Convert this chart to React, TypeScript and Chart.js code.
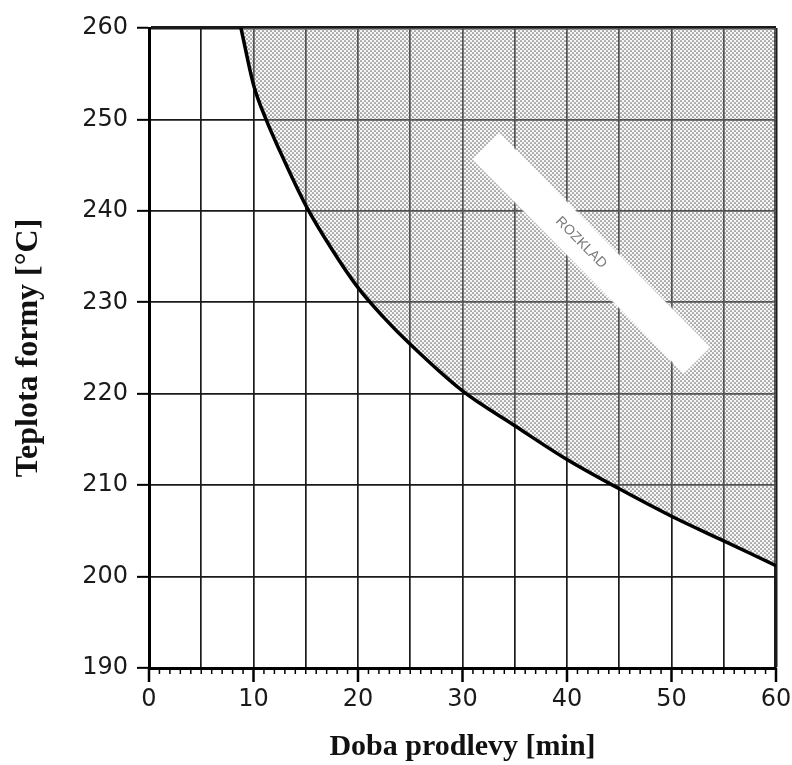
import React, { useEffect, useRef } from "react";
import { Chart, registerables } from "chart.js";

Chart.register(...registerables);

// Curve: time [min] vs mould temperature [°C]
const holdTimes = [8.8, 10, 11.2, 12.5, 15, 17.5, 20, 22.5, 25, 30, 35, 40, 45, 50, 55, 60];
const mouldTemps = [260, 253.8, 250, 246.6, 240.6, 235.8, 231.6, 228.3, 225.4, 220.3, 216.5, 212.8, 209.6, 206.6, 203.9, 201.2];

const xTickLabels = ["0", "10", "20", "30", "40", "50", "60"];
const yTickLabels = ["190", "200", "210", "220", "230", "240", "250", "260"];

const xTitle = "Doba prodlevy [min]";
const yTitle = "Teplota formy [°C]";
const zoneLabel = "ROZKLAD";

function makePattern(): CanvasPattern | string {
  const c = document.createElement("canvas");
  c.width = 4;
  c.height = 4;
  const g = c.getContext("2d");
  if (!g) return "rgba(120,120,120,0.5)";
  g.fillStyle = "rgba(225,225,225,0.25)";
  g.fillRect(0, 0, 4, 4);
  g.fillStyle = "#6a6a6a";
  g.beginPath();
  g.arc(1, 1, 0.85, 0, Math.PI * 2);
  g.fill();
  g.beginPath();
  g.arc(3, 3, 0.85, 0, Math.PI * 2);
  g.fill();
  const p = g.createPattern(c, "repeat");
  return p || "rgba(120,120,120,0.5)";
}

const xTicksPlugin = {
  id: "xMinorTicks",
  afterDraw(chart: any) {
    const xs = chart.scales.x;
    const ctx = chart.ctx;
    const bottom = chart.chartArea.bottom;
    ctx.save();
    ctx.strokeStyle = "#000";
    for (let i = 0; i <= 60; i++) {
      const px = xs.getPixelForValue(i);
      const major = i % 10 === 0;
      ctx.lineWidth = major ? 2.5 : 1.5;
      ctx.beginPath();
      ctx.moveTo(px, bottom);
      ctx.lineTo(px, bottom + (major ? 14 : 6));
      ctx.stroke();
    }
    ctx.restore();
  },
};

const bandPlugin = {
  id: "zoneBand",
  afterDatasetsDraw(chart: any) {
    const xs = chart.scales.x;
    const ys = chart.scales.y;
    const ctx = chart.ctx;
    const cx = xs.getPixelForValue(42.35);
    const cy = ys.getPixelForValue(235.35);
    ctx.save();
    ctx.translate(cx, cy);
    ctx.rotate((45.4 * Math.PI) / 180);
    ctx.shadowColor = "rgba(255,255,255,0.9)";
    ctx.shadowBlur = 3;
    ctx.fillStyle = "#ffffff";
    ctx.fillRect(-150, -18.5, 300, 37);
    ctx.shadowBlur = 0;
    ctx.fillStyle = "#7a7a7a";
    ctx.font = "14px 'Liberation Sans', Arial, sans-serif";
    ctx.textAlign = "center";
    ctx.textBaseline = "middle";
    ctx.fillText(zoneLabel, -15, 0);
    ctx.restore();
  },
};

export default function App() {
  const ref = useRef<HTMLCanvasElement | null>(null);

  useEffect(() => {
    if (!ref.current) return;
    const pattern = makePattern();
    const points = holdTimes.map((x, i) => ({ x, y: mouldTemps[i] }));
    const chart = new Chart(ref.current, {
      type: "line",
      data: {
        datasets: [
          {
            data: points,
            borderColor: "#000",
            borderWidth: 3.5,
            pointRadius: 0,
            cubicInterpolationMode: "monotone",
            fill: "end",
            backgroundColor: pattern as any,
          },
        ],
      },
      options: {
        responsive: false,
        animation: false,
        layout: { padding: { left: 0, right: 16, top: 28, bottom: 0 } },
        plugins: {
          legend: { display: false },
          tooltip: { enabled: false },
        },
        scales: {
          x: {
            type: "linear",
            min: 0,
            max: 60,
            afterFit: (s: any) => {
              s.height = 97;
              s.paddingLeft = 0;
              s.paddingRight = 0;
            },
            border: { display: true, color: "#000", width: 3 },
            grid: {
              color: "#1a1a1a",
              lineWidth: (c: any) => (c.tick && c.tick.value === 60 ? 3.5 : 1.7),
              drawTicks: true,
              tickLength: 10,
              tickColor: "rgba(0,0,0,0)",
            },
            ticks: {
              stepSize: 5,
              padding: 7,
              color: "#1a1a1a",
              font: { family: "'DejaVu Sans', sans-serif", size: 24 },
              maxRotation: 0,
              autoSkip: false,
              callback: (v: any) => {
                const s = String(v);
                return xTickLabels.includes(s) ? s : "";
              },
            },
            title: {
              display: true,
              text: xTitle,
              color: "#111",
              font: { family: "'Liberation Serif', 'Times New Roman', serif", size: 30, weight: "bold" },
              padding: { top: 0, bottom: 0 },
            },
          },
          y: {
            type: "linear",
            min: 190,
            max: 260,
            afterFit: (s: any) => {
              s.width = 149;
            },
            border: { display: true, color: "#000", width: 3 },
            grid: {
              color: "#1a1a1a",
              lineWidth: (c: any) => (c.tick && c.tick.value === 260 ? 3.5 : 1.7),
              tickLength: 12,
              tickColor: "#000",
              tickWidth: 2,
            },
            ticks: {
              stepSize: 10,
              padding: 9,
              color: "#1a1a1a",
              font: { family: "'DejaVu Sans', sans-serif", size: 24 },
              callback: (v: any) => {
                const s = String(v);
                return yTickLabels.includes(s) ? s : "";
              },
            },
            title: {
              display: true,
              text: yTitle,
              color: "#111",
              font: { family: "'Liberation Serif', 'Times New Roman', serif", size: 32, weight: "bold" },
              padding: { top: 10, bottom: 0 },
            },
          },
        },
      },
      plugins: [bandPlugin, xTicksPlugin],
    });
    return () => chart.destroy();
  }, []);

  return (
    <div style={{ position: "fixed", left: 0, top: 0, width: 792, height: 765, background: "#fff" }}>
      <canvas ref={ref} width={792} height={765} style={{ display: "block" }} />
    </div>
  );
}
